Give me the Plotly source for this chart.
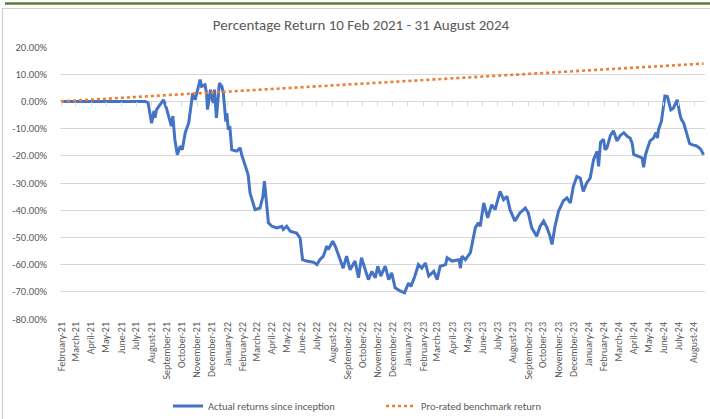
import plotly.graph_objects as go

# ---------------- data ----------------
dates = [
    "2021-02-10", "2021-07-30", "2021-08-05", "2021-08-12", "2021-08-17", "2021-08-19",
    "2021-08-22", "2021-08-29", "2021-09-05", "2021-09-11", "2021-09-21", "2021-09-24",
    "2021-09-28", "2021-10-03", "2021-10-09", "2021-10-13", "2021-10-19", "2021-10-26",
    "2021-10-29", "2021-11-03", "2021-11-08", "2021-11-18", "2021-11-21", "2021-11-28",
    "2021-12-01", "2021-12-03", "2021-12-09", "2021-12-14", "2021-12-17", "2021-12-21",
    "2021-12-27", "2022-01-01", "2022-01-04", "2022-01-09", "2022-01-11", "2022-01-14",
    "2022-01-17", "2022-01-21", "2022-01-31", "2022-02-07", "2022-02-10", "2022-02-13",
    "2022-02-19", "2022-02-23", "2022-02-27", "2022-03-06", "2022-03-09", "2022-03-19",
    "2022-03-25", "2022-03-28", "2022-03-31", "2022-04-02", "2022-04-05", "2022-04-12",
    "2022-04-22", "2022-05-02", "2022-05-05", "2022-05-12", "2022-05-19", "2022-06-01",
    "2022-06-08", "2022-06-13", "2022-06-21", "2022-07-05", "2022-07-12", "2022-07-18",
    "2022-07-25", "2022-08-01", "2022-08-04", "2022-08-13", "2022-08-18", "2022-08-28",
    "2022-09-03", "2022-09-10", "2022-09-17", "2022-09-27", "2022-10-04", "2022-10-10",
    "2022-10-17", "2022-10-24", "2022-10-31", "2022-11-07", "2022-11-12", "2022-11-18",
    "2022-11-27", "2022-12-04", "2022-12-10", "2022-12-17", "2022-12-27", "2023-01-05",
    "2023-01-13", "2023-01-18", "2023-01-26", "2023-02-02", "2023-02-09", "2023-02-16",
    "2023-02-23", "2023-03-05", "2023-03-12", "2023-03-18", "2023-03-29", "2023-04-01",
    "2023-04-11", "2023-04-25", "2023-04-28", "2023-05-01", "2023-05-08", "2023-05-18",
    "2023-05-22", "2023-05-28", "2023-06-03", "2023-06-07", "2023-06-14", "2023-06-22",
    "2023-06-30", "2023-07-07", "2023-07-17", "2023-07-24", "2023-07-31", "2023-08-06",
    "2023-08-16", "2023-08-26", "2023-09-06", "2023-09-12", "2023-09-19", "2023-09-29",
    "2023-10-06", "2023-10-13", "2023-10-20", "2023-10-26", "2023-10-30", "2023-11-05",
    "2023-11-12", "2023-11-22", "2023-11-29", "2023-12-06", "2023-12-12", "2023-12-19",
    "2023-12-26", "2024-01-01", "2024-01-08", "2024-01-15", "2024-01-22", "2024-01-29",
    "2024-02-01", "2024-02-05", "2024-02-11", "2024-02-14", "2024-02-18", "2024-02-25",
    "2024-03-02", "2024-03-09", "2024-03-16", "2024-03-23", "2024-03-30", "2024-04-05",
    "2024-04-09", "2024-04-12", "2024-04-16", "2024-04-25", "2024-04-29", "2024-05-02",
    "2024-05-06", "2024-05-09", "2024-05-15", "2024-05-22", "2024-05-27", "2024-05-30",
    "2024-06-01", "2024-06-07", "2024-06-14", "2024-06-19", "2024-06-24", "2024-06-26",
    "2024-07-01", "2024-07-06", "2024-07-09", "2024-07-14", "2024-07-17", "2024-07-22",
    "2024-07-26", "2024-08-03", "2024-08-09", "2024-08-16", "2024-08-22", "2024-08-26",
    "2024-08-31",
]
actual_pct = [
    0.0, 0.0, -0.5, -8.0, -3.5, -6.0,
    -3.0, -1.0, 0.6, -2.5, -9.1, -5.4,
    -14.0, -19.6, -16.4, -17.8, -11.5, -7.9,
    -3.0, 3.0, 0.6, 8.0, 5.5, 6.1,
    3.0, -3.0, 4.3, -0.6, 4.3, -6.1,
    6.7, 5.5, 3.0, -7.4, -4.3, -10.4,
    -9.1, -17.8, -18.3, -17.1, -19.6, -21.4,
    -25.1, -26.9, -33.7, -38.6, -39.8, -39.2,
    -34.9, -29.3, -36.1, -39.2, -44.6, -45.9,
    -46.5, -45.9, -47.1, -45.9, -47.7, -48.4,
    -50.2, -58.2, -58.7, -59.1, -60.0, -58.2,
    -56.9, -53.2, -54.5, -51.4, -53.2, -58.2,
    -61.3, -56.9, -61.9, -58.7, -64.8, -57.5,
    -61.3, -65.5, -62.5, -64.8, -60.6, -64.2,
    -60.6, -65.5, -63.0, -68.5, -69.7, -70.4,
    -66.8, -68.0, -64.2, -60.0, -61.3, -59.4,
    -64.2, -62.5, -65.5, -60.6, -60.0, -57.5,
    -58.7, -58.2, -61.3, -56.9, -58.2, -55.6,
    -52.0, -46.5, -44.6, -45.9, -37.3, -42.8,
    -38.0, -39.8, -33.1, -36.1, -34.9, -39.8,
    -44.0, -41.0, -39.2, -41.0, -46.5, -49.6,
    -45.9, -44.0, -46.5, -49.6, -52.6, -45.9,
    -40.4, -36.5, -35.5, -37.3, -31.3, -27.6,
    -28.2, -33.1, -30.0, -28.2, -21.3, -18.4,
    -23.9, -15.0, -14.0, -17.8, -17.0, -12.5,
    -10.8, -14.5, -12.5, -11.5, -12.8, -13.5,
    -15.5, -19.5, -19.8, -20.5, -20.8, -24.2,
    -19.5, -17.8, -14.5, -13.5, -11.5, -13.5,
    -10.5, -7.3, 2.0, 1.8, -2.5, -3.1,
    -2.5, -0.5, 0.6, -4.5, -6.5, -8.0,
    -10.4, -15.5, -16.0, -16.3, -17.0, -17.8,
    -19.6,
]
bench_dates = ["2021-02-10", "2024-08-31"]
bench_pct = [0.0, 13.9]

month_labels = [
    "February-21", "March-21", "April-21", "May-21", "June-21", "July-21", "August-21",
    "September-21", "October-21", "November-21", "December-21",
    "January-22", "February-22", "March-22", "April-22", "May-22", "June-22", "July-22",
    "August-22", "September-22", "October-22", "November-22", "December-22",
    "January-23", "February-23", "March-23", "April-23", "May-23", "June-23", "July-23",
    "August-23", "September-23", "October-23", "November-23", "December-23",
    "January-24", "February-24", "March-24", "April-24", "May-24", "June-24", "July-24",
    "August-24",
]
tick_months = [(2021, m) for m in range(2, 13)] + [(2022, m) for m in range(1, 13)] + \
              [(2023, m) for m in range(1, 13)] + [(2024, m) for m in range(1, 9)]
tick_dates = [f"{y}-{m:02d}-12" for (y, m) in tick_months]

y_tick_vals = [0.2, 0.1, 0.0, -0.1, -0.2, -0.3, -0.4, -0.5, -0.6, -0.7, -0.8]
y_tick_text = ["20.00%", "10.00%", "0.00%", "-10.00%", "-20.00%", "-30.00%",
               "-40.00%", "-50.00%", "-60.00%", "-70.00%", "-80.00%"]

# ---------------- layout geometry ----------------
W, H = 710, 419
L, R, T, B = 60, 5, 47, 100
PW, PH = W - L - R, H - T - B


def px_x(px):
    return (px - L) / PW


def px_y(py):
    return (H - B - py) / PH


FONT = "Calibri, Carlito, Lato, sans-serif"
GREY = "#595959"
GRID = "#D9D9D9"
XRANGE = ["2021-02-08", "2024-09-03"]

fig = go.Figure()
fig.add_trace(go.Scatter(
    x=dates, y=[v / 100 for v in actual_pct], mode="lines",
    name="Actual returns since inception",
    line=dict(color="#4472C4", width=3),
))
fig.add_trace(go.Scatter(
    x=bench_dates, y=[v / 100 for v in bench_pct], mode="lines",
    name="Pro-rated benchmark return",
    line=dict(color="#ED7D31", width=2.6, dash="dot"),
))
fig.add_trace(go.Scatter(x=[], y=[], xaxis="x2", showlegend=False, hoverinfo="skip"))

fig.update_layout(
    width=W, height=H,
    margin=dict(l=L, r=R, t=T, b=B),
    paper_bgcolor="white", plot_bgcolor="white",
    font=dict(family=FONT, color=GREY, size=10),
    title=dict(text="Percentage Return 10 Feb 2021 - 31 August 2024",
               xref="container", x=361 / W, xanchor="center",
               yref="container", y=1 - 25 / H, yanchor="middle",
               font=dict(family=FONT, size=15, color=GREY)),
    xaxis=dict(type="date", range=XRANGE, tickvals=tick_dates, ticktext=month_labels,
               tickangle=-90, tickfont=dict(size=10, color=GREY),
               showgrid=False, zeroline=False, showline=False, ticks="",
               automargin=False),
    xaxis2=dict(type="date", range=XRANGE, overlaying="x", anchor="free", position=0.8,
                side="bottom", tickvals=tick_dates, ticks="outside", ticklen=4,
                tickcolor=GRID, tickwidth=1, showticklabels=False, showgrid=False,
                zeroline=False, showline=False),
    yaxis=dict(range=[-0.8, 0.2], tickvals=y_tick_vals, ticktext=y_tick_text,
               showgrid=True, gridcolor=GRID, gridwidth=1, zeroline=False,
               showline=False, ticks="", tickfont=dict(size=10.5, color=GREY),
               ticklabelstandoff=12, automargin=False),
    legend=dict(orientation="h", xref="container", x=168 / W, xanchor="left",
                yref="container", y=13 / H, yanchor="middle",
                entrywidthmode="pixels", entrywidth=168,
                font=dict(family=FONT, size=10.5, color=GREY), bgcolor="rgba(0,0,0,0)"),
    showlegend=True,
    shapes=[
        dict(type="line", xref="paper", yref="paper", x0=px_x(5), x1=px_x(712),
             y0=px_y(3.5), y1=px_y(3.5), line=dict(color="#5B7B3A", width=2.5)),
        dict(type="line", xref="paper", yref="paper", x0=px_x(2), x1=px_x(712),
             y0=px_y(8.5), y1=px_y(8.5), line=dict(color="#D0D0D0", width=1.2)),
        dict(type="line", xref="paper", yref="paper", x0=px_x(2.5), x1=px_x(2.5),
             y0=px_y(8.5), y1=px_y(421), line=dict(color="#D0D0D0", width=1.2)),
    ],
)

fig.write_html("out.html", config={"displayModeBar": False},
               post_script="document.body.style.margin='0px';")
